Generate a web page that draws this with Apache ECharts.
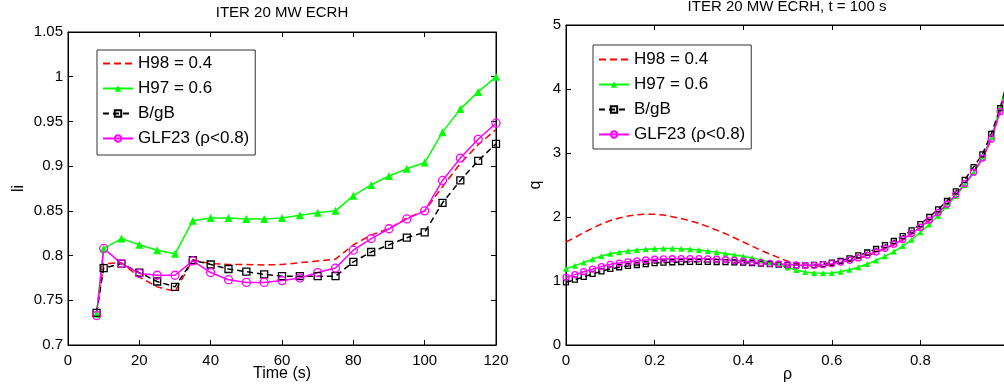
<!DOCTYPE html>
<html>
<head>
<meta charset="utf-8">
<script src="https://cdn.jsdelivr.net/npm/echarts@6/dist/echarts.min.js"></script>
<style>
  html, body { margin: 0; padding: 0; background: #fff; }
  #chart { width: 1004px; height: 387px; }
</style>
</head>
<body>
<div id="chart"></div>
<script>
// ---- internal inductance li versus time ----
const times = [8, 10, 15, 20, 25, 30, 35, 40, 45, 50, 55, 60, 65, 70, 75, 80, 85, 90, 95, 100, 105, 110, 115, 120];
const liH98 = [0.735, 0.791, 0.792, 0.776, 0.765, 0.760, 0.795, 0.791, 0.790, 0.790, 0.7895, 0.790, 0.792, 0.794, 0.796, 0.812, 0.823, 0.830, 0.842, 0.850, 0.877, 0.903, 0.924, 0.941];
const liH97 = [0.735, 0.808, 0.819, 0.812, 0.806, 0.802, 0.839, 0.842, 0.842, 0.841, 0.841, 0.842, 0.845, 0.848, 0.850, 0.867, 0.879, 0.889, 0.897, 0.904, 0.938, 0.964, 0.983, 1.000];
const liBgB = [0.736, 0.786, 0.791, 0.781, 0.771, 0.765, 0.795, 0.790, 0.785, 0.782, 0.779, 0.777, 0.777, 0.777, 0.777, 0.793, 0.804, 0.812, 0.820, 0.826, 0.859, 0.884, 0.906, 0.925];
const liGLF = [0.733, 0.808, 0.791, 0.780, 0.778, 0.778, 0.794, 0.781, 0.773, 0.770, 0.770, 0.772, 0.775, 0.781, 0.786, 0.806, 0.819, 0.830, 0.841, 0.850, 0.884, 0.909, 0.930, 0.948];

// ---- safety factor q versus normalised radius at t = 100 s ----
const rho = [0, 0.02, 0.04, 0.06, 0.08, 0.10, 0.12, 0.14, 0.16, 0.18, 0.20, 0.22, 0.24, 0.26, 0.28, 0.30, 0.32, 0.34, 0.36, 0.38, 0.40,
             0.42, 0.44, 0.46, 0.48, 0.50, 0.52, 0.54, 0.56, 0.58, 0.60, 0.62, 0.64, 0.66, 0.68, 0.70, 0.72, 0.74, 0.76, 0.78, 0.80,
             0.82, 0.84, 0.86, 0.88, 0.90, 0.92, 0.94, 0.96, 0.98, 1.00];
const qH98 = [1.61, 1.68, 1.755, 1.825, 1.89, 1.945, 1.985, 2.015, 2.035, 2.043, 2.042, 2.03, 2.005, 1.975, 1.94, 1.90, 1.85, 1.795, 1.74, 1.675, 1.61,
              1.545, 1.48, 1.42, 1.365, 1.31, 1.27, 1.245, 1.235, 1.24, 1.255, 1.28, 1.31, 1.35, 1.395, 1.445, 1.50, 1.565, 1.64, 1.73, 1.83,
              1.94, 2.06, 2.19, 2.34, 2.51, 2.69, 2.91, 3.21, 3.64, 4.14];
const qH97 = [1.19, 1.24, 1.29, 1.34, 1.39, 1.425, 1.45, 1.47, 1.485, 1.497, 1.505, 1.508, 1.507, 1.503, 1.495, 1.483, 1.468, 1.45, 1.43, 1.408, 1.385,
              1.36, 1.33, 1.295, 1.25, 1.21, 1.17, 1.14, 1.125, 1.12, 1.125, 1.145, 1.175, 1.215, 1.265, 1.32, 1.385, 1.46, 1.545, 1.645, 1.76,
              1.885, 2.02, 2.17, 2.33, 2.50, 2.69, 2.92, 3.25, 3.70, 4.25];
const qBgB = [0.98, 1.02, 1.065, 1.11, 1.15, 1.19, 1.215, 1.235, 1.25, 1.265, 1.28, 1.287, 1.293, 1.297, 1.299, 1.30, 1.299, 1.297, 1.294, 1.291, 1.288,
              1.28, 1.272, 1.264, 1.256, 1.25, 1.245, 1.243, 1.25, 1.265, 1.285, 1.315, 1.355, 1.40, 1.445, 1.50, 1.56, 1.625, 1.70, 1.79, 1.89,
              2.00, 2.12, 2.25, 2.40, 2.58, 2.78, 2.98, 3.30, 3.70, 4.20];
const qGLF = [1.06, 1.10, 1.145, 1.185, 1.225, 1.26, 1.28, 1.30, 1.315, 1.328, 1.34, 1.345, 1.348, 1.35, 1.35, 1.35, 1.347, 1.34, 1.332, 1.322, 1.31,
              1.298, 1.286, 1.276, 1.266, 1.258, 1.25, 1.245, 1.245, 1.255, 1.27, 1.295, 1.325, 1.36, 1.405, 1.455, 1.51, 1.575, 1.65, 1.74, 1.84,
              1.95, 2.07, 2.20, 2.35, 2.52, 2.70, 2.92, 3.22, 3.65, 4.15];

const seriesNames = ['H98 = 0.4', 'H97 = 0.6', 'B/gB', 'GLF23 (\u03c1<0.8)'];

const FONT = '"Liberation Sans", Arial, sans-serif';
const RED = '#ff0000', GREEN = '#00ff00', BLACK = '#000000', MAGENTA = '#ff00ff';

function pairs(xs, ys) { return xs.map((x, i) => [x, ys[i]]); }

function axisBase(extra) {
  return Object.assign({
    type: 'value',
    axisLine: { show: true, onZero: false, lineStyle: { color: '#000', width: 1 } },
    axisTick: { show: true, inside: true, length: 5, lineStyle: { color: '#000', width: 1 } },
    splitLine: { show: false },
    axisLabel: { color: '#000', fontSize: 15, fontFamily: FONT },
    nameMoveOverlap: false,
    nameTextStyle: { color: '#000', fontSize: 16, fontFamily: FONT }
  }, extra);
}

function mirror(base, pos) {
  const a = axisBase(base);
  a.position = pos;
  a.axisLabel = { show: false };
  a.name = '';
  return a;
}

function makeSeries(gi, xs, ys, kind, small) {
  const sz = small ? 6 : 8;
  const common = { type: 'line', xAxisIndex: gi * 2, yAxisIndex: gi * 2, animation: false, z: 3 };
  if (kind === 0) return Object.assign(common, {
    name: seriesNames[0], data: pairs(xs, ys), symbol: 'none',
    lineStyle: { color: RED, width: 1.5, type: [7, 4] }, itemStyle: { color: RED }
  });
  if (kind === 1) return Object.assign(common, {
    name: seriesNames[1], data: pairs(xs, ys), symbol: 'triangle', symbolSize: sz,
    lineStyle: { color: GREEN, width: 1.5 }, itemStyle: { color: GREEN }
  });
  if (kind === 2) return Object.assign(common, {
    name: seriesNames[2], data: pairs(xs, ys), symbol: 'rect', symbolSize: sz - 1,
    lineStyle: { color: BLACK, width: 1.5, type: [6, 4] },
    itemStyle: { color: 'rgba(0,0,0,0)', borderColor: BLACK, borderWidth: 1.3 }
  });
  return Object.assign(common, {
    name: seriesNames[3], data: pairs(xs, ys), symbol: 'circle', symbolSize: sz,
    lineStyle: { color: MAGENTA, width: 1.5 },
    itemStyle: { color: 'rgba(0,0,0,0)', borderColor: MAGENTA, borderWidth: 1.3 }
  });
}

function legendAt(left, top, pad) {
  return {
    // the dashed H98 entry carries no marker, only its line
    data: [
      { name: seriesNames[0], itemStyle: { opacity: 0 } },
      seriesNames[1], seriesNames[2], seriesNames[3]
    ],
    orient: 'vertical', left: left, top: top,
    itemWidth: 30, itemHeight: 8, itemGap: 8,
    padding: pad,
    borderColor: '#333', borderWidth: 1, backgroundColor: '#fff',
    selectedMode: false,
    textStyle: { color: '#000', fontSize: 17, fontFamily: FONT, lineHeight: 17 }
  };
}

const chart = echarts.init(document.getElementById('chart'), null, { renderer: 'canvas' });

const leftX = { gridIndex: 0, min: 0, max: 120, interval: 20 };
const leftY = { gridIndex: 0, min: 0.7, max: 1.05, interval: 0.05 };
const rightX = { gridIndex: 1, min: 0, max: 1, interval: 0.2 };
const rightY = { gridIndex: 1, min: 0, max: 5, interval: 1 };

chart.setOption({
  animation: false,
  backgroundColor: '#fff',
  grid: [
    { left: 68, top: 32, width: 428, height: 313, show: true, borderColor: '#000', borderWidth: 1, outerBoundsMode: 'none', containLabel: false },
    { left: 566, top: 25, width: 443, height: 320, show: true, borderColor: '#000', borderWidth: 1, outerBoundsMode: 'none', containLabel: false }
  ],
  xAxis: [
    axisBase(Object.assign({}, leftX, {
      position: 'bottom', name: 'Time (s)', nameLocation: 'middle', nameGap: 21,
      axisLabel: { color: '#000', fontSize: 15, fontFamily: FONT, margin: 8 }
    })),
    mirror(leftX, 'top'),
    axisBase(Object.assign({}, rightX, {
      position: 'bottom', name: '\u03c1', nameLocation: 'middle', nameGap: 22,
      axisLabel: { color: '#000', fontSize: 15, fontFamily: FONT, margin: 8 }
    })),
    mirror(rightX, 'top')
  ],
  yAxis: [
    axisBase(Object.assign({}, leftY, {
      position: 'left', name: 'li', nameLocation: 'middle', nameGap: 41,
      axisLabel: { color: '#000', fontSize: 15, fontFamily: FONT, margin: 5 }
    })),
    mirror(leftY, 'right'),
    axisBase(Object.assign({}, rightY, {
      position: 'left', name: 'q', nameLocation: 'middle', nameGap: 22,
      axisLabel: { color: '#000', fontSize: 15, fontFamily: FONT, margin: 5 }
    })),
    mirror(rightY, 'right')
  ],
  legend: [legendAt(97, 50, [5, 6, 8, 5]), legendAt(593, 45, [6, 6, 6, 5])],
  graphic: [
    { type: 'text', x: 282, y: 13, style: { text: 'ITER 20 MW ECRH', fill: '#000', fontSize: 15, fontFamily: FONT, align: 'center', verticalAlign: 'middle' } },
    { type: 'text', x: 787, y: 7, style: { text: 'ITER 20 MW ECRH, t = 100 s', fill: '#000', fontSize: 15, fontFamily: FONT, align: 'center', verticalAlign: 'middle' } }
  ],
  series: [
    makeSeries(0, times, liH98, 0, false),
    makeSeries(0, times, liH97, 1, false),
    makeSeries(0, times, liBgB, 2, false),
    makeSeries(0, times, liGLF, 3, false),
    makeSeries(1, rho, qH98, 0, true),
    makeSeries(1, rho, qH97, 1, true),
    makeSeries(1, rho, qBgB, 2, true),
    makeSeries(1, rho, qGLF, 3, true)
  ]
});
</script>
</body>
</html>
